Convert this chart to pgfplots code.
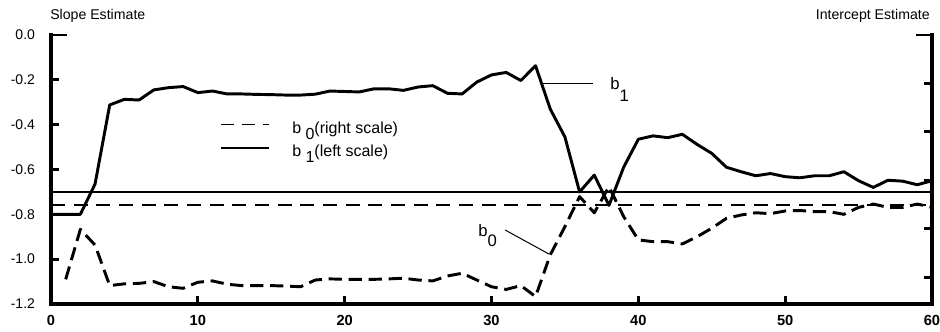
\documentclass[border=0pt]{standalone}
\usepackage{fontspec}
\setmainfont{Liberation Sans}
\usepackage{pgfplots}
\pgfplotsset{compat=1.18}
\begin{document}
\begin{tikzpicture}
\begin{axis}[
  at={(38.25pt,21pt)}, anchor=south west,
  scale only axis, width=660.75pt, height=201.75pt,
  xmin=0, xmax=60, ymin=-1.2, ymax=0,
  axis x line=bottom, axis y line=left,
  axis line style={-, line width=3.4pt, line cap=rect},
  tick align=inside, major tick length=6pt,
  tick style={line width=2.2pt, black},
  xtick={0,10,20,30,40,50,60},
  xticklabels={0,10,20,30,40,50,60},
  xticklabel style={font=\fontsize{11}{13}\selectfont\bfseries, yshift=-5pt},
  ytick={-1.2,-1.0,-0.8,-0.6,-0.4,-0.2,0},
  yticklabels={-1.2,-1.0,-0.8,-0.6,-0.4,-0.2,0.0},
  yticklabel style={font=\fontsize{10.5}{12}\selectfont, xshift=-8.5pt},
  extra y ticks={0}, extra y tick labels={},
  extra y tick style={major tick length=12pt},
  clip=false,
  legend style={at={(axis cs:11.5,-0.385)}, anchor=north west, draw=none, fill=none,
    font=\fontsize{12}{14}\selectfont, inner sep=0pt, row sep=7.5pt,
    nodes={inner sep=0pt},
    /tikz/every odd column/.append style={column sep=17pt}},
  legend cell align=left,
  legend image code/.code={\draw[#1] (0pt,0.28em) -- (36pt,0.28em);},
]
\addlegendimage{black, line width=1.1pt, dash pattern=on 9.75pt off 6pt}
\addlegendentry{b \raisebox{-4.5pt}{0}(right scale)}
\addlegendimage{black, line width=1.1pt}
\addlegendentry{b \raisebox{-4.5pt}{1}(left scale)}
% reference lines
\addplot[forget plot, black, line width=0.9pt] coordinates {(0,-0.70) (60,-0.70)};
\addplot[forget plot, black, line width=1.5pt, dash pattern=on 10.5pt off 6.5pt] coordinates {(0,-0.76) (60,-0.76)};
% b1 slope (left scale)
\addplot[forget plot, black, line width=2.2pt, line join=round] coordinates {
(0,-0.80)(1,-0.80)(2,-0.80)(3,-0.665)(4,-0.312)(5,-0.287)(6,-0.29)(7,-0.245)(8,-0.235)(9,-0.23)
(10,-0.257)(11,-0.25)(12,-0.263)(13,-0.263)(14,-0.265)(15,-0.266)(16,-0.268)(17,-0.268)(18,-0.264)(19,-0.25)
(20,-0.252)(21,-0.254)(22,-0.24)(23,-0.24)(24,-0.247)(25,-0.232)(26,-0.226)(27,-0.26)(28,-0.263)(29,-0.21)
(30,-0.178)(31,-0.167)(32,-0.203)(33,-0.137)(34,-0.33)(35,-0.455)(36,-0.70)(37,-0.625)(38,-0.76)(39,-0.59)
(40,-0.465)(41,-0.45)(42,-0.458)(43,-0.443)(44,-0.488)(45,-0.528)(46,-0.59)(47,-0.61)(48,-0.628)(49,-0.618)
(50,-0.632)(51,-0.637)(52,-0.628)(53,-0.628)(54,-0.61)(55,-0.65)(56,-0.68)(57,-0.648)(58,-0.652)(59,-0.668)(60,-0.65)};
% b0 intercept (drawn on the left-scale frame)
\addplot[forget plot, black, line width=2.2pt, line join=round, dash pattern=on 10pt off 5pt] coordinates {
(1,-1.09)(2,-0.867)(3,-0.937)(4,-1.118)(5,-1.11)(6,-1.108)(7,-1.10)(8,-1.123)(9,-1.13)
(10,-1.103)(11,-1.097)(12,-1.112)(13,-1.118)(14,-1.118)(15,-1.118)(16,-1.12)(17,-1.123)(18,-1.093)(19,-1.088)
(20,-1.09)(21,-1.09)(22,-1.09)(23,-1.088)(24,-1.085)(25,-1.093)(26,-1.097)(27,-1.075)(28,-1.063)(29,-1.093)
(30,-1.123)(31,-1.135)(32,-1.118)(33,-1.167)(34,-0.981)(35,-0.855)(36,-0.721)(37,-0.793)(38,-0.677)(39,-0.81)
(40,-0.914)(41,-0.922)(42,-0.922)(43,-0.932)(44,-0.9)(45,-0.862)(46,-0.818)(47,-0.803)(48,-0.793)(49,-0.797)
(50,-0.785)(51,-0.783)(52,-0.788)(53,-0.788)(54,-0.80)(55,-0.769)(56,-0.754)(57,-0.769)(58,-0.769)(59,-0.754)(60,-0.769)};
% leader lines
\addplot[forget plot, black, line width=0.75pt] coordinates {(33.4,-0.216) (36.9,-0.216)};
\addplot[forget plot, black, line width=0.75pt] coordinates {(30.93,-0.870) (33.94,-0.978)};
\node[anchor=base west, inner sep=0pt, font=\fontsize{12.5}{14}\selectfont] at (axis cs:38.08,-0.245) {b\raisebox{-8.5pt}{1}};
\node[anchor=base west, inner sep=0pt, font=\fontsize{12.5}{14}\selectfont] at (axis cs:29.09,-0.90) {b\raisebox{-7.5pt}{0}};
\end{axis}
\begin{axis}[
  at={(38.25pt,21pt)}, anchor=south west,
  scale only axis, width=660.75pt, height=201.75pt,
  xmin=0, xmax=60, ymin=-5.55, ymax=0,
  axis x line=none, axis y line=right,
  axis line style={-, line width=3.4pt, line cap=rect},
  tick align=inside, major tick length=6pt,
  tick style={line width=2.2pt, black},
  ytick={-5,-4,-3,-2,-1,0}, yticklabels={},
  extra y ticks={0}, extra y tick labels={},
  extra y tick style={major tick length=12pt},
]
\addplot[draw=none, forget plot] coordinates {(0,0)};
\end{axis}
\node[anchor=west, inner sep=0pt, font=\fontsize{10.6}{12}\selectfont] at (37.5pt,237pt) {Slope Estimate};
\node[anchor=east, inner sep=0pt, font=\fontsize{10.6}{12}\selectfont] at (697.5pt,237pt) {Intercept Estimate};
\pgfresetboundingbox
\useasboundingbox (0,0) rectangle (705pt,249pt);
\end{tikzpicture}
\end{document}
